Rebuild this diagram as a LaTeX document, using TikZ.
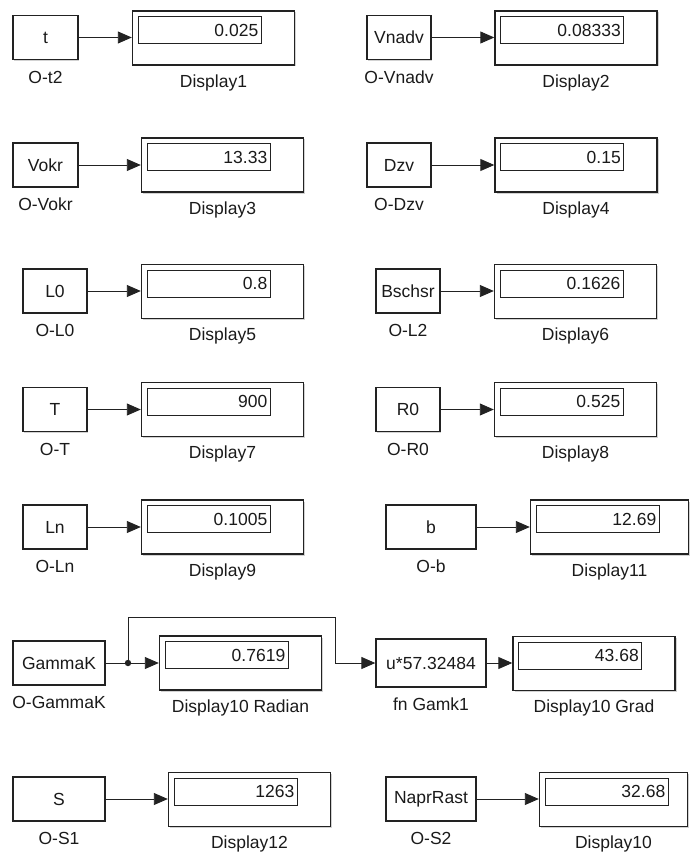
\documentclass[tikz,border=0pt]{standalone}
\usepackage{fontspec}
\setmainfont{Liberation Sans}
\usetikzlibrary{arrows.meta,shadows}
\definecolor{ln}{HTML}{222222}
\definecolor{tx}{HTML}{1A1A1A}
\newcommand{\dispbox}[6]{%
  \node[dispframe,#6] (#1) at (#2,#3) {};
  \node[dispinner, anchor=north west] (#1in) at ([xshift=6pt,yshift=-6pt]#1.north west) {#4};
  \node[lbl] (#1lb) at ([yshift=-17pt]#1.south) {#5};
}
\begin{document}
\begin{tikzpicture}[x=1pt,y=-1pt,
  font=\fontsize{17.5}{20}\selectfont, text=tx,
  srcbox/.style={draw=ln, line width=1.3pt, fill=white, inner sep=0pt,
     minimum height=44pt, drop shadow={shadow xshift=1.2pt, shadow yshift=-1.2pt, fill=gray!50, opacity=0.7}},
  dispframe/.style={draw=ln, line width=1.4pt, fill=white, inner sep=0pt,
     minimum width=162pt, minimum height=54pt, drop shadow={shadow xshift=1.5pt, shadow yshift=-1.5pt, fill=gray!50, opacity=0.7}},
  dispinner/.style={draw=ln, line width=0.9pt, inner xsep=3pt, inner ysep=0pt,
     text width=117pt, align=right, minimum height=27pt},
  lbl/.style={inner sep=1pt},
  conn/.style={draw=ln, line width=0.9pt},
  arr/.style={conn, -{Triangle[length=14pt,width=12pt]}}
]
\useasboundingbox (0,0) rectangle (693,853);

% ---------- source blocks ----------
\node[srcbox, minimum width=65pt] (t) at (45.5,37.5) {t};
\node[lbl] (tlb) at ([yshift=-17pt]t.south) {O-t2};
\node[srcbox, minimum width=64pt] (vnadv) at (399,37.5) {Vnadv};
\node[lbl] (vnadvlb) at ([yshift=-17pt]vnadv.south) {O-Vnadv};
\node[srcbox, minimum width=65pt] (vokr) at (45.5,165) {Vokr};
\node[lbl] (vokrlb) at ([yshift=-17pt]vokr.south) {O-Vokr};
\node[srcbox, minimum width=64pt] (dzv) at (399,165) {Dzv};
\node[lbl] (dzvlb) at ([yshift=-17pt]dzv.south) {O-Dzv};
\node[srcbox, minimum width=64pt] (l0) at (55,291) {L0};
\node[lbl] (l0lb) at ([yshift=-17pt]l0.south) {O-L0};
\node[srcbox, minimum width=64pt] (bschsr) at (408,291) {Bschsr};
\node[lbl] (bschsrlb) at ([yshift=-17pt]bschsr.south) {O-L2};
\node[srcbox, minimum width=64pt] (tt) at (55,409.5) {T};
\node[lbl] (ttlb) at ([yshift=-17pt]tt.south) {O-T};
\node[srcbox, minimum width=64pt] (r0) at (408,409.5) {R0};
\node[lbl] (r0lb) at ([yshift=-17pt]r0.south) {O-R0};
\node[srcbox, minimum width=64pt] (lnb) at (55,527) {Ln};
\node[lbl] (lnblb) at ([yshift=-17pt]lnb.south) {O-Ln};
\node[srcbox, minimum width=90pt] (bb) at (431,527) {b};
\node[lbl] (bblb) at ([yshift=-17pt]bb.south) {O-b};
\node[srcbox, minimum width=92pt] (gam) at (59,663) {GammaK};
\node[lbl] (gamlb) at ([yshift=-17pt]gam.south) {O-GammaK};
\node[srcbox, minimum width=110pt, minimum height=48pt] (fn) at (431,663) {u*57.32484};
\node[lbl] (fnlb) at ([yshift=-17pt]fn.south) {fn Gamk1};
\node[srcbox, minimum width=92pt] (ss) at (59,799) {S};
\node[lbl] (sslb) at ([yshift=-17pt]ss.south) {O-S1};
\node[srcbox, minimum width=90pt] (napr) at (431,799) {NaprRast};
\node[lbl] (naprlb) at ([yshift=-17pt]napr.south) {O-S2};

% ---------- displays ----------
\dispbox{d1}{213.5}{38}{0.025}{Display1}{}
\dispbox{d2}{576}{38}{0.08333}{Display2}{}
\dispbox{d3}{222.5}{165}{13.33}{Display3}{}
\dispbox{d4}{576}{165}{0.15}{Display4}{}
\dispbox{d5}{222.5}{291.5}{0.8}{Display5}{}
\dispbox{d6}{575.5}{291.5}{0.1626}{Display6}{}
\dispbox{d7}{222.5}{409.5}{900}{Display7}{}
\dispbox{d8}{575.5}{409.5}{0.525}{Display8}{}
\dispbox{d9}{222.5}{527}{0.1005}{Display9}{}
\dispbox{d11}{609.5}{527}{12.69}{Display11}{minimum width=158pt}
\dispbox{d10r}{240.5}{663}{0.7619}{Display10 Radian}{}
\dispbox{d10g}{594}{663.5}{43.68}{Display10 Grad}{}
\dispbox{d12}{249.5}{799.5}{1263}{Display12}{}
\dispbox{d10}{613.5}{799.5}{32.68}{Display10}{minimum width=148pt}

% ---------- connectors ----------
\draw[arr] (t.east) -- (t.east -| d1.west);
\draw[arr] (vnadv.east) -- (vnadv.east -| d2.west);
\draw[arr] (vokr.east) -- (vokr.east -| d3.west);
\draw[arr] (dzv.east) -- (dzv.east -| d4.west);
\draw[arr] (l0.east) -- (l0.east -| d5.west);
\draw[arr] (bschsr.east) -- (bschsr.east -| d6.west);
\draw[arr] (tt.east) -- (tt.east -| d7.west);
\draw[arr] (r0.east) -- (r0.east -| d8.west);
\draw[arr] (lnb.east) -- (lnb.east -| d9.west);
\draw[arr] (bb.east) -- (bb.east -| d11.west);
\draw[arr] (ss.east) -- (ss.east -| d12.west);
\draw[arr] (napr.east) -- (napr.east -| d10.west);

\coordinate (br) at (128,663);
\coordinate (up) at (335,617);
\draw[conn] (gam.east) -- (br);
\draw[arr] (br) -- (br -| d10r.west);
\draw[arr] (br) |- (up) |- (fn.west);
\fill[ln] (br) circle (3.2pt);
\draw[arr] (fn.east) -- (fn.east -| d10g.west);
\end{tikzpicture}
\end{document}
